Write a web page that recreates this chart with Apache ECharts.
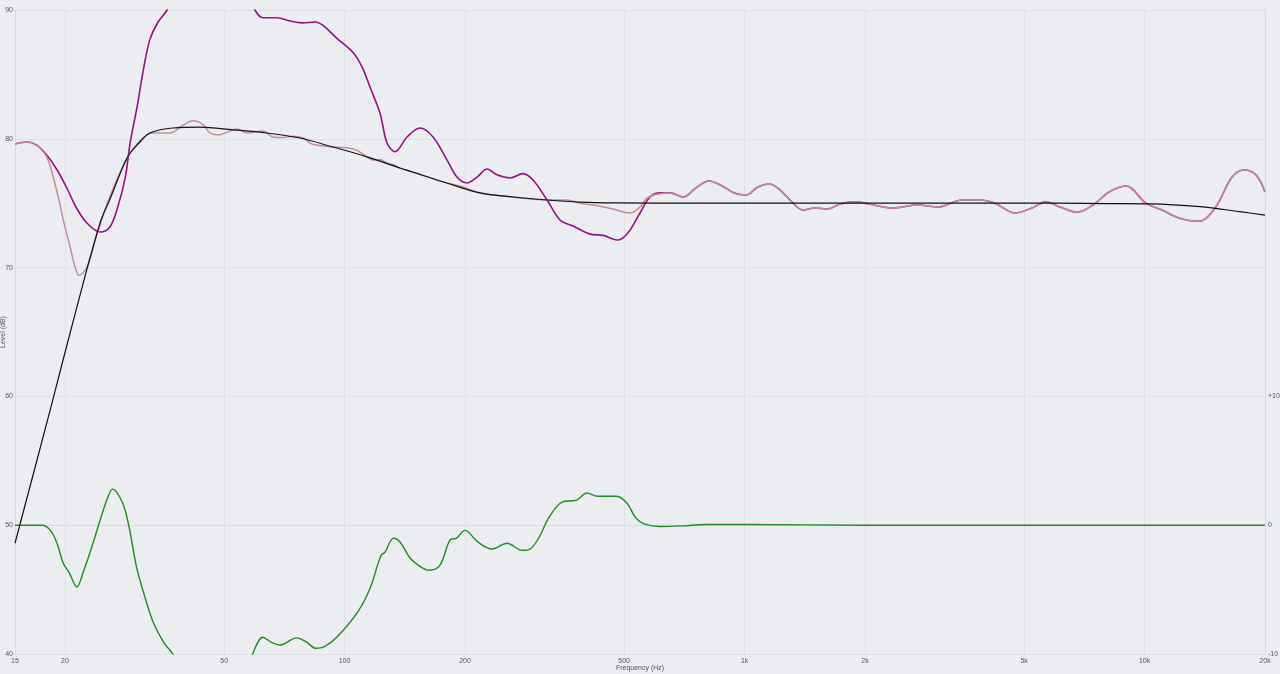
<!DOCTYPE html>
<html>
<head>
<meta charset="utf-8">
<script src="https://cdn.jsdelivr.net/npm/echarts@6/dist/echarts.min.js"></script>
<style>
html,body{margin:0;padding:0;background:#ECEDF1;}
#chart{width:1280px;height:674px;}
</style>
</head>
<body>
<div id="chart"></div>
<script>
// ---- Data (frequency in Hz, level in dB) ----
const tickFreqs = [15, 20, 50, 100, 200, 500, 1000, 2000, 5000, 10000, 20000];
const tickLabels = ['15', '20', '50', '100', '200', '500', '1k', '2k', '5k', '10k', '20k'];

const targetFreq  = [15, 18.35, 21.4, 24.5, 25.9, 28.7, 30.8, 32.6, 37.2, 43.5, 52.6, 64, 77.4, 93.6, 113.8, 137.6, 148, 180, 218, 264, 321, 388, 469, 774, 6040, 8055, 10320, 13760, 17320, 20000];
const targetLevel = [48.6, 58.9, 66.9, 73.5, 75.3, 78.6, 79.75, 80.45, 80.84, 80.9, 80.7, 80.45, 80.06, 79.36, 78.6, 77.73, 77.42, 76.57, 75.8, 75.48, 75.25, 75.09, 75.03, 75.0, 75.0, 74.97, 74.95, 74.73, 74.34, 74.08];

const correctedFreq  = [15, 16.1, 17.0, 18.0, 18.7, 19.4, 19.8, 20.6, 21.2, 21.7, 22.7, 24.1, 25.9, 28.7, 31.3, 33.2, 36.6, 39.2, 41.8, 44.3, 46.1, 48.3, 50.8, 53.8, 57.0, 62.5, 66.2, 70.2, 74.3, 78.7, 82.9, 93.6, 101.4, 107.4, 113.8, 117.8, 122.6, 127.7, 132.2, 137.6, 148.3, 180.4, 197.8, 218.1, 263.8, 320.8, 359.9, 387.9, 417.9, 469.0, 517.2, 547.6, 570.2, 604.1, 651.0, 701.8, 760.6, 815.0, 878.5, 941.2, 1008, 1080, 1151, 1220, 1322, 1400, 1500, 1617, 1732, 1899, 2047, 2350, 2714, 3046, 3497, 3856, 4227, 4744, 5231, 5670, 6146, 6778, 7432, 8150, 8987, 10080, 11060, 12190, 13680, 15000, 16550, 17730, 19000, 20000];
const correctedLevel = [79.6, 79.75, 79.5, 78.6, 77.0, 75.0, 73.7, 71.6, 70.05, 69.4, 70.05, 72.7, 75.5, 78.6, 80.06, 80.45, 80.45, 81.0, 81.4, 81.1, 80.45, 80.3, 80.5, 80.76, 80.45, 80.6, 80.14, 80.1, 80.2, 80.06, 79.6, 79.36, 79.3, 79.1, 78.6, 78.35, 78.4, 78.1, 78.0, 77.7, 77.4, 76.57, 76.26, 75.8, 75.48, 75.25, 75.25, 75.0, 74.86, 74.55, 74.24, 74.7, 75.4, 75.7, 75.8, 75.48, 76.26, 76.72, 76.34, 75.8, 75.64, 76.26, 76.49, 76.1, 75.0, 74.47, 74.63, 74.55, 74.94, 75.1, 74.94, 74.63, 74.86, 74.7, 75.25, 75.25, 75.0, 74.24, 74.63, 75.1, 74.7, 74.3, 74.86, 75.87, 76.34, 75.0, 74.47, 73.85, 73.6, 74.63, 77.03, 77.58, 77.19, 75.87];

const measuredFreq  = [15, 16.1, 17.0, 18.0, 19.1, 20.2, 21.4, 22.7, 24.5, 25.9, 27.1, 28.3, 29.1, 30.3, 31.3, 32.6, 34.2, 36.0, 38, 42, 47, 52, 56, 59.7, 62.5, 67.8, 73.0, 78.3, 84.4, 88.3, 95.7, 105.0, 110.5, 115.8, 122.6, 127.7, 133.7, 143.3, 154.4, 166.4, 180.4, 191.0, 202.4, 214.4, 227.1, 240.5, 259.2, 279.3, 295.9, 320.8, 345.6, 372.5, 410.9, 442.8, 482.7, 511.3, 547.6, 580.2, 614.7, 651.0, 701.8, 760.6, 815.0, 878.5, 941.2, 1008, 1080, 1151, 1220, 1322, 1400, 1500, 1617, 1732, 1899, 2047, 2350, 2714, 3046, 3497, 3856, 4227, 4744, 5231, 5670, 6146, 6778, 7432, 8150, 8987, 10080, 11060, 12190, 13680, 15000, 16550, 17730, 19000, 20000];
const measuredLevel = [79.6, 79.75, 79.5, 78.74, 77.6, 76.2, 74.6, 73.46, 72.76, 73.15, 74.7, 77.0, 79.67, 82.5, 85.1, 87.7, 89.07, 90.0, 91.5, 93.5, 94.5, 93.5, 92.0, 90.0, 89.4, 89.4, 89.15, 89.0, 89.07, 88.8, 87.8, 86.7, 85.6, 84.0, 82.0, 79.67, 79.0, 80.14, 80.84, 80.14, 78.35, 77.03, 76.57, 77.03, 77.65, 77.2, 76.96, 77.3, 76.8, 75.25, 73.7, 73.23, 72.6, 72.5, 72.14, 72.7, 74.24, 75.48, 75.8, 75.8, 75.48, 76.26, 76.72, 76.34, 75.8, 75.64, 76.26, 76.49, 76.1, 75.0, 74.47, 74.63, 74.55, 74.94, 75.1, 74.94, 74.63, 74.86, 74.7, 75.25, 75.25, 75.0, 74.24, 74.63, 75.1, 74.7, 74.3, 74.86, 75.87, 76.34, 75.0, 74.47, 73.85, 73.6, 74.63, 77.03, 77.58, 77.19, 75.87];

const filterFreq = [15, 17.5, 18.4, 19.1, 19.8, 20.5, 21.4, 22.3, 23.5, 24.6, 25.7, 26.3, 27.8, 28.8, 30.2, 31.7, 33.3, 35.4, 37.2, 40, 45, 50, 55, 58.9, 62.5, 65.7, 69.0, 75.9, 80.5, 84.7, 88.8, 95.6, 107.8, 115.8, 123.3, 126.2, 132.6, 137.6, 145.8, 155.3, 162.6, 173.2, 183.4, 190.6, 200.0, 215.2, 233.7, 254.7, 277.7, 290.8, 305.7, 324.4, 349.6, 380.3, 403.7, 429.1, 478.7, 508.3, 533.8, 560.6, 614.7, 700, 800, 1000, 2000, 20000];
const filterGain = [0, 0, -0.4, -1.4, -2.95, -3.7, -4.8, -3.5, -1.4, 0.6, 2.3, 2.8, 1.8, 0.15, -3.25, -5.6, -7.6, -9.15, -10, -12, -14, -14, -12.5, -10, -8.7, -9.1, -9.3, -8.75, -9.1, -9.55, -9.45, -8.7, -6.75, -4.9, -2.35, -2.1, -1.0, -1.3, -2.55, -3.25, -3.5, -3.1, -1.15, -1.0, -0.4, -1.3, -1.85, -1.4, -1.95, -1.85, -1.0, 0.6, 1.8, 1.95, 2.5, 2.25, 2.25, 1.7, 0.6, 0.1, -0.1, -0.05, 0.05, 0.05, 0, 0];

// ---- Build ----
const lg = v => Math.log10(v);
const pairs = (fs, vs) => fs.map((f, i) => [lg(f), vs[i]]);
const tickPos = tickFreqs.map(lg);
const labelFor = v => {
  let best = 0, d = Infinity;
  tickPos.forEach((p, i) => { const dd = Math.abs(p - v); if (dd < d) { d = dd; best = i; } });
  return d < 1e-3 ? tickLabels[best] : '';
};

const chart = echarts.init(document.getElementById('chart'));
const labelStyle = { color: '#555', fontSize: 7, fontFamily: 'Liberation Sans, Arial, sans-serif' };
chart.setOption({
  backgroundColor: '#ECEDF1',
  animation: false,
  grid: { left: 15, right: 15, top: 10, bottom: 20, containLabel: false, outerBoundsMode: 'none' },
  xAxis: {
    type: 'value',
    min: lg(15), max: lg(20000),
    name: 'Frequency (Hz)', nameLocation: 'middle', nameGap: 11, nameMoveOverlap: false,
    nameTextStyle: labelStyle,
    axisLine: { show: true, lineStyle: { color: '#D9DADF', width: 1 } },
    axisTick: { show: false, customValues: tickPos },
    axisLabel: Object.assign({ customValues: tickPos, formatter: labelFor, margin: 4, showMinLabel: true, showMaxLabel: true }, labelStyle),
    splitLine: { show: true, lineStyle: { color: '#E0E1E6', width: 1 } }
  },
  yAxis: [{
    type: 'value', min: 40, max: 90, interval: 10,
    name: 'Level (dB)', nameLocation: 'middle', nameGap: 8, nameRotate: 90, nameMoveOverlap: false,
    nameTextStyle: labelStyle,
    axisLine: { show: true, lineStyle: { color: '#D9DADF' } },
    axisTick: { show: false },
    axisLabel: Object.assign({ margin: 2 }, labelStyle),
    splitLine: { show: true, lineStyle: { color: '#E0E1E6', width: 1 } }
  }, {
    type: 'value', min: -10, max: 40, interval: 10, position: 'right',
    axisLine: { show: true, lineStyle: { color: '#D9DADF' } },
    axisTick: { show: false },
    axisLabel: Object.assign({ margin: 3, formatter: v => v > 10 ? '' : (v > 0 ? '+' + v : String(v)) }, labelStyle),
    splitLine: { show: false }
  }],
  series: [
    { name: 'Filter', type: 'line', yAxisIndex: 1, data: pairs(filterFreq, filterGain), showSymbol: false, smooth: 0.35, lineStyle: { color: '#1F8B1F', width: 1.4 }, z: 2 },
    { name: 'Measured', type: 'line', data: pairs(measuredFreq, measuredLevel), showSymbol: false, smooth: 0.35, lineStyle: { color: '#9A0F82', width: 1.6 }, z: 3 },
    { name: 'Corrected', type: 'line', data: pairs(correctedFreq, correctedLevel), showSymbol: false, smooth: 0.35, lineStyle: { color: '#C48C97', width: 1.5 }, z: 4 },
    { name: 'Target', type: 'line', data: pairs(targetFreq, targetLevel), showSymbol: false, smooth: 0.35, lineStyle: { color: '#111111', width: 1.2 }, z: 5 }
  ]
});
</script>
</body>
</html>
